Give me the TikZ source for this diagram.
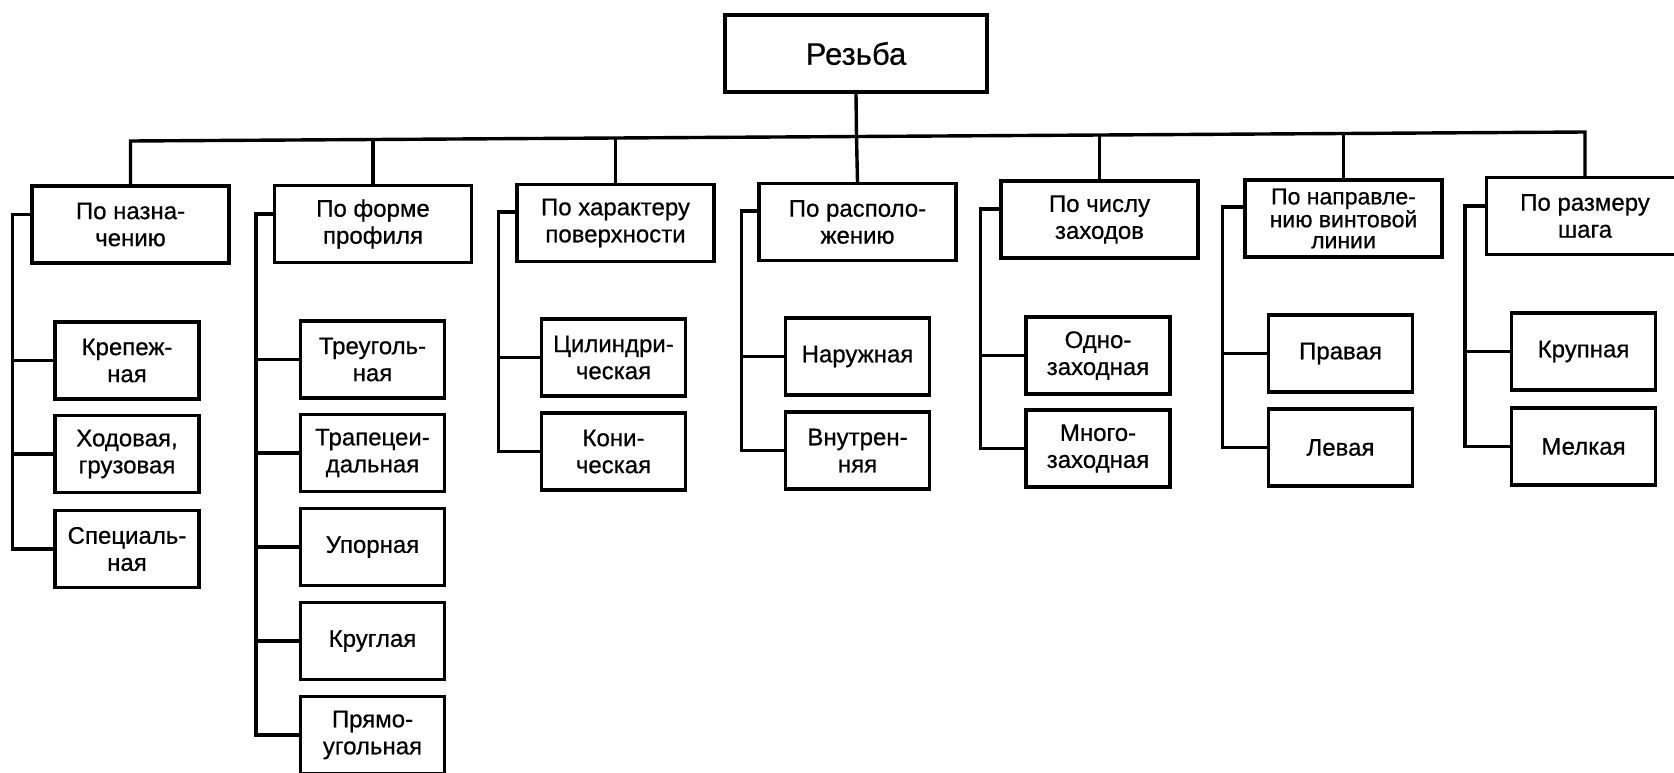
\documentclass[tikz,border=0pt]{standalone}
\usepackage{fontspec}
\setmainfont{Liberation Sans}[FakeBold=0.6]
\begin{document}
\begin{tikzpicture}[x=1pt,y=-1pt,line width=3.4pt,line join=miter,
  box/.style={draw,line width=3.4pt,align=center,inner sep=0pt,
    minimum width=197pt,minimum height=77pt,font=\fontsize{24}{27}\selectfont},
  rootbox/.style={box,minimum width=262pt,font=\fontsize{31}{33}\selectfont},
  leaf/.style={box,minimum width=144pt},
  threeline/.style={font=\fontsize{23}{21}\selectfont},
  conn/.style={line width=3.4pt}]
\useasboundingbox (0,0) rectangle (1674,772);
\fill[white] (0,0) rectangle (1674,772);

% root
\node[rootbox] (root) at (856,53.5) {Резьба};

% level 1
\node[box] (b1) at (130.5,224.5) {По назна-\\чению};
\node[box] (b2) at (373,224) {По форме\\профиля};
\node[box] (b3) at (615.5,223) {По характеру\\поверхности};
\node[box] (b4) at (857.5,222) {По располо-\\жению};
\node[box] (b5) at (1099.5,219.5) {По числу\\заходов};
\node[box,threeline] (b6) at (1343.5,218.5) {По направле-\\нию винтовой\\линии};
\node[box] (b7) at (1585,216) {По размеру\\шага};

% bus
\coordinate (k1) at (130.5,141);
\coordinate (k2) at (373,139.5);
\coordinate (k3) at (615.5,138);
\coordinate (k4) at (856.5,136.5);
\coordinate (k5) at (1099.5,135);
\coordinate (k6) at (1343.5,133.5);
\coordinate (k7) at (1585,132);
\draw[conn] (b1.north) -- (k1) -- (k7) -- (b7.north);
\draw[conn] (root.south) -- (k4);
\draw[conn] (b2.north) -- (k2);
\draw[conn] (b3.north) -- (k3);
\draw[conn] (b4.north) -- (k4);
\draw[conn] (b5.north) -- (k5);
\draw[conn] (b6.north) -- (k6);

% children of b1
\node[leaf] (c11) at (127,360.5) {Крепеж-\\ная};
\node[leaf] (c12) at (127,454) {Ходовая,\\грузовая};
\node[leaf] (c13) at (127,549) {Специаль-\\ная};
% children of b2
\node[leaf] (c21) at (372.5,359.5) {Треуголь-\\ная};
\node[leaf] (c22) at (372.5,453) {Трапецеи-\\дальная};
\node[leaf] (c23) at (372.5,547) {Упорная};
\node[leaf] (c24) at (372.5,641) {Круглая};
\node[leaf] (c25) at (372.5,735) {Прямо-\\угольная};
% children of b3
\node[leaf] (c31) at (613.5,357.5) {Цилиндри-\\ческая};
\node[leaf] (c32) at (613.5,451.5) {Кони-\\ческая};
% children of b4
\node[leaf] (c41) at (857.5,356.5) {Наружная};
\node[leaf] (c42) at (857.5,450.5) {Внутрен-\\няя};
% children of b5
\node[leaf] (c51) at (1098,355.5) {Одно-\\заходная};
\node[leaf] (c52) at (1098,448.5) {Много-\\заходная};
% children of b6
\node[leaf] (c61) at (1340.5,353.5) {Правая};
\node[leaf] (c62) at (1340.5,447.5) {Левая};
% children of b7
\node[leaf] (c71) at (1583.5,351.5) {Крупная};
\node[leaf] (c72) at (1583.5,446.5) {Мелкая};

% spines
\draw[conn] ([yshift=10pt]b1.west) -- ++(-18,0) coordinate (s1) |- (c13.west);
\draw[conn] (s1 |- c11.west) -- (c11.west);
\draw[conn] (s1 |- c12.west) -- (c12.west);

\draw[conn] ([yshift=10pt]b2.west) -- ++(-17,0) coordinate (s2) |- (c25.west);
\draw[conn] (s2 |- c21.west) -- (c21.west);
\draw[conn] (s2 |- c22.west) -- (c22.west);
\draw[conn] (s2 |- c23.west) -- (c23.west);
\draw[conn] (s2 |- c24.west) -- (c24.west);

\draw[conn] ([yshift=11pt]b3.west) -- ++(-17,0) coordinate (s3) |- (c32.west);
\draw[conn] (s3 |- c31.west) -- (c31.west);

\draw[conn] ([yshift=11pt]b4.west) -- ++(-16,0) coordinate (s4) |- (c42.west);
\draw[conn] (s4 |- c41.west) -- (c41.west);

\draw[conn] ([yshift=10.5pt]b5.west) -- ++(-19,0) coordinate (s5) |- (c52.west);
\draw[conn] (s5 |- c51.west) -- (c51.west);

\draw[conn] ([yshift=11.5pt]b6.west) -- ++(-21,0) coordinate (s6) |- (c62.west);
\draw[conn] (s6 |- c61.west) -- (c61.west);

\draw[conn] ([yshift=10pt]b7.west) -- ++(-20,0) coordinate (s7) |- (c72.west);
\draw[conn] (s7 |- c71.west) -- (c71.west);
\end{tikzpicture}
\end{document}
